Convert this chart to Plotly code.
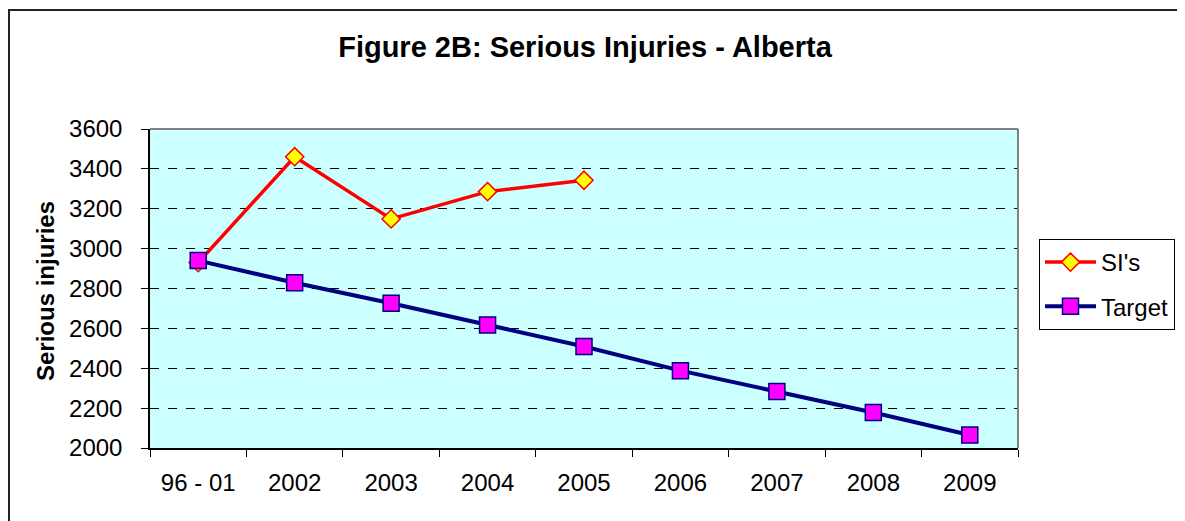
import plotly.graph_objects as go

categories = ["96 - 01", "2002", "2003", "2004", "2005", "2006", "2007", "2008", "2009"]
si_values = [2930, 3461, 3149, 3286, 3343]
target_values = [2940, 2829, 2726, 2617, 2509, 2388, 2283, 2178, 2065]
y_ticks = [2000, 2200, 2400, 2600, 2800, 3000, 3200, 3400, 3600]

FONT = "Liberation Sans, Arial, sans-serif"

# page body has an 8px margin; plot area sits at screen x 150..1018, y 129..448
W, H = 1177, 513
L, T, PW, PH = 142, 121, 868, 319

fig = go.Figure()
fig.add_trace(go.Scatter(
    x=categories[:len(si_values)], y=si_values, name="SI's", mode="lines+markers",
    line=dict(color="#FF0000", width=3.5),
    marker=dict(symbol="diamond", size=14, color="#FFFF00", line=dict(color="#FF0000", width=1.5)),
    legendgroup="a",
))
fig.add_trace(go.Scatter(
    x=categories, y=target_values, name="Target", mode="lines+markers",
    line=dict(color="#000080", width=4),
    marker=dict(symbol="square", size=16, color="#FF00FF", line=dict(color="#000080", width=1.5)),
    legendgroup="b",
))

fig.update_layout(
    width=W, height=H,
    margin=dict(l=L, r=W - L - PW, t=T, b=H - T - PH, pad=0, autoexpand=False),
    paper_bgcolor="white",
    plot_bgcolor="#CCFFFF",
    font=dict(family=FONT, size=24, color="black"),
    title=dict(text="<b>Figure 2B: Serious Injuries - Alberta</b>", x=577 / W, xanchor="center",
               y=1 - 39 / H, yanchor="middle", font=dict(family=FONT, size=29, color="black")),
    showlegend=True,
    legend=dict(xref="container", yref="container",
                x=(1039 - 8) / W, xanchor="left", y=1 - (239 - 8) / H, yanchor="top",
                bordercolor="black", borderwidth=1,
                bgcolor="white", font=dict(family=FONT, size=24), tracegroupgap=10,
                itemwidth=51),
    xaxis=dict(type="category", categoryorder="array", categoryarray=categories,
               range=[-0.5, len(categories) - 0.5],
               showline=True, linecolor="black", linewidth=1.5,
               ticks="outside", tickson="boundaries", ticklen=7, tickcolor="black", tickwidth=1,
               showgrid=False, tickfont=dict(family=FONT, size=24), ticklabelstandoff=12),
    yaxis=dict(range=[2000, 3600], tickvals=y_ticks, ticktext=[str(v) for v in y_ticks],
               showline=True, linecolor="black", linewidth=1.5,
               ticks="outside", ticklen=7, tickcolor="black", tickwidth=1,
               showgrid=True, gridcolor="black", gridwidth=1, griddash="dash",
               zeroline=False, tickfont=dict(family=FONT, size=24), ticklabelstandoff=14),
    annotations=[dict(text="<b>Serious injuries</b>", xref="paper", yref="paper",
                      x=(45 - 150) / PW, y=(448 - 291) / PH, xanchor="center", yanchor="middle",
                      textangle=-90, showarrow=False, font=dict(family=FONT, size=24))],
    shapes=[
        # gray top and right frame of plot area
        dict(type="line", xref="paper", yref="paper", x0=0, x1=1, y0=1, y1=1,
             line=dict(color="#808080", width=2)),
        dict(type="line", xref="paper", yref="paper", x0=1, x1=1, y0=0, y1=1,
             line=dict(color="#808080", width=2)),
        # outer chart border
        dict(type="rect", xref="paper", yref="paper",
             x0=(9 - 150) / PW, x1=(1200 - 150) / PW,
             y0=(448 - 540) / PH, y1=(448 - 10) / PH,
             line=dict(color="#222222", width=2)),
    ],
)

fig.write_html("out.html")
